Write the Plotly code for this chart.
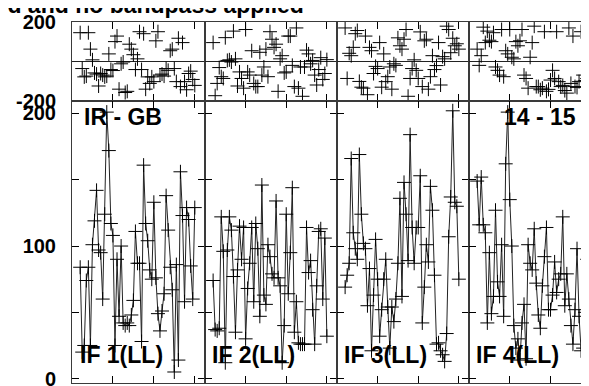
import plotly.graph_objects as go
from plotly.subplots import make_subplots

# channels plotted in every IF
channels = list(range(4, 61))

if_labels = ["IF 1(LL)", "IF 2(LL)", "IF 3(LL)", "IF 4(LL)"]

amp_if1 = [84, 20, 25, 74, 84, 25, 101, 119, 142, 97, 95, 60, 124, 201, 172, 117, 108, 25, 90, 47,
           100, 42, 40, 42, 40, 48, 59, 111, 87, 87, 28, 161, 117, 104, 82, 75, 133, 76, 49, 36,
           51, 64, 138, 112, 84, 67, 5, 86, 14, 156, 123, 58, 129, 120, 85, 60, 129]
amp_if2 = [74, 37, 36, 38, 122, 96, 12, 97, 122, 112, 77, 35, 82, 115, 90, 114, 30, 68, 87, 114,
           58, 117, 98, 47, 146, 63, 56, 101, 92, 79, 76, 134, 76, 70, 12, 40, 124, 64, 95, 144,
           35, 58, 27, 26, 26, 26, 114, 80, 89, 52, 26, 70, 111, 113, 60, 106, 32]
amp_if3 = [69, 78, 87, 166, 110, 98, 90, 169, 124, 102, 98, 55, 83, 21, 63, 105, 75, 32, 52, 75,
           90, 54, 23, 54, 43, 60, 87, 136, 62, 148, 124, 89, 184, 114, 87, 114, 114, 153, 42, 69,
           101, 88, 145, 127, 78, 26, 27, 21, 18, 13, 34, 107, 137, 202, 133, 130, 75]
amp_if4 = [149, 116, 152, 116, 110, 42, 95, 49, 62, 127, 73, 62, 101, 47, 162, 201, 135, 100, 40, 23,
           30, 14, 42, 56, 15, 101, 87, 82, 113, 72, 48, 38, 70, 92, 114, 52, 52, 63, 88, 65,
           75, 79, 122, 55, 79, 60, 40, 26, 52, 98, 47, 21, 23, 50, 90, 101, 118]

phase_if1 = [146, -35, -77, -73, 146, 63, 9, -57, -63, -123, -60, -68, -77, -73, 39, -40, -45, 101, 129, -139,
             -11, -2, -156, -150, 88, 63, 35, -40, 14, 151, -40, 141, -139, -77, -110, -77, -101, 105, 151, -68,
             -63, -73, -35, -44, 55, 63, -35, -101, 118, -126, 96, -101, -142, -60, -48, -90, -120]
phase_if2 = [96, -172, -110, -30, -76, -85, 121, 6, 9, -2, 154, 14, -123, -52, -85, -134, 162, -52, -68, 55,
             -110, -126, -126, 47, -68, -27, 63, -76, 151, 113, 72, 88, -150, 14, 30, -57, -52, 129, 129, -19,
             -126, 170, -134, -27, -175, -27, 58, 39, -11, 6, -68, -118, -40, 20, -90, -60, 10]
phase_if3 = [170, -85, 42, 30, 72, 141, 157, -100, -129, -134, 129, -167, 72, 55, -60, -24, -35, 96, -129, 39,
             -101, -76, -27, -139, -11, -19, 120, 80, 63, 113, 162, -175, -85, -35, 9, -44, -85, 150, -126, 105,
             113, -139, -76, 30, -40, -20, 96, -118, 25, 14, 179, 162, 45, 118, 80, 90, 63]
phase_if4 = [63, -19, 30, 174, 96, 154, 108, 101, 146, -27, -44, -68, 162, -76, 55, 39, 162, 22, 14, 101,
             80, 105, 162, -68, -85, -134, 22, 96, 179, -126, -126, -142, -134, 151, -150, -140, -93, -44, -85, 151,
             -101, -126, -120, -146, -159, 170, -110, 129, -126, -130, -101, 151, -68, -95, -85, -60, -118]

amps = [amp_if1, amp_if2, amp_if3, amp_if4]
phases = [phase_if1, phase_if2, phase_if3, phase_if4]

FONT = "Liberation Sans, Arial, sans-serif"
AXIS_COLOR = "#3a3a3a"

fig = make_subplots(rows=2, cols=4, row_heights=[81, 288], column_widths=[133, 132, 132, 128],
                    horizontal_spacing=0, vertical_spacing=0)

cross = dict(symbol="cross-thin", size=10, color="black", line=dict(width=1, color="black"))

for i in range(4):
    col = i + 1
    fig.add_trace(go.Scatter(x=channels, y=phases[i], mode="markers", marker=cross,
                             showlegend=False), row=1, col=col)
    fig.add_trace(go.Scatter(x=channels, y=amps[i], mode="lines+markers", marker=cross,
                             line=dict(color="#222222", width=1), showlegend=False), row=2, col=col)

    xmax = 65 if col < 4 else 62.8
    for row in (1, 2):
        fig.update_xaxes(range=[0, xmax], tickvals=[20, 40, 60], ticks="inside", ticklen=7,
                         tickcolor="black", showticklabels=False, showgrid=False, zeroline=False,
                         showline=True, linecolor=AXIS_COLOR, linewidth=1, mirror="ticks",
                         row=row, col=col)

    yaxis_style = dict(ticks="inside", ticklen=7, tickcolor="black", showgrid=False,
                       showline=True, linecolor=AXIS_COLOR, linewidth=1,
                       mirror="ticks" if col < 4 else False,
                       showticklabels=(col == 1), ticklabelstandoff=11,
                       tickfont=dict(family=FONT, size=20, color="black"))
    fig.update_yaxes(range=[-200, 200], tickvals=[-200, 200], ticktext=["<b>-200</b>", "<b>200</b>"],
                     zeroline=True, zerolinecolor="#222222", zerolinewidth=1,
                     row=1, col=col, **yaxis_style)
    fig.update_yaxes(range=[-3.3, 209.2], tickvals=[0, 50, 100, 150, 200],
                     ticktext=["<b>0</b>", "", "<b>100</b>", "", "<b>200</b>"], zeroline=False,
                     row=2, col=col, **yaxis_style)

label_font = dict(family=FONT, size=23, color="black", weight="bold")
for i, lab in enumerate(if_labels):
    fig.add_annotation(text=lab, x=24, y=18, xref="x%d" % (i + 5), yref="y%d" % (i + 5),
                       showarrow=False, font=label_font)
fig.add_annotation(text="IR - GB", x=25, y=197, xref="x5", yref="y5", showarrow=False, font=label_font)
fig.add_annotation(text="14 - 15", x=35, y=197, xref="x8", yref="y8", showarrow=False, font=label_font)

fig.add_annotation(text="Calibrated and no bandpass applied", xref="paper", yref="paper",
                   x=234 / 525, y=1, xanchor="right", yanchor="bottom", yshift=2,
                   showarrow=False, font=label_font)

fig.update_layout(width=589, height=386, margin=dict(l=64, r=0, t=14, b=3),
                  plot_bgcolor="white", paper_bgcolor="white")

fig.write_html("out.html")
